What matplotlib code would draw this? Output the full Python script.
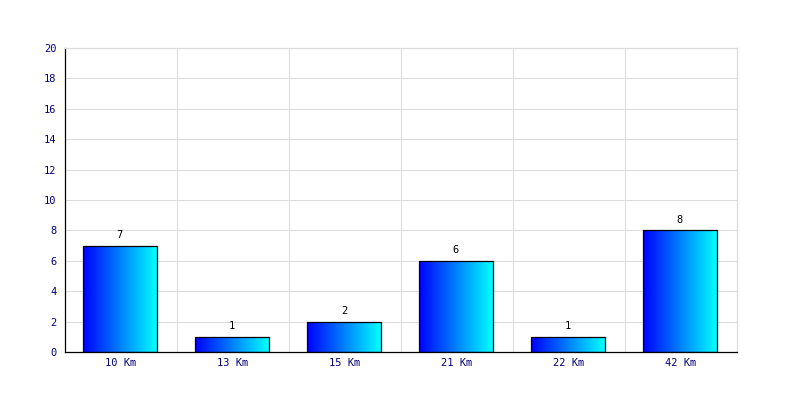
# Distances bar chart with blue-to-cyan gradient bars

import matplotlib
matplotlib.use("Agg")
import matplotlib.pyplot as plt
import numpy as np
from matplotlib.colors import LinearSegmentedColormap
from matplotlib.patches import Rectangle

# Data
categories = ['10 Km', '13 Km', '15 Km', '21 Km', '22 Km', '42 Km']
values = [7, 1, 2, 6, 1, 8]
y_ticks = [0, 2, 4, 6, 8, 10, 12, 14, 16, 18, 20]

font = 'DejaVu Sans Mono'
grid_color = '#dcdcdc'
tick_color = '#000080'
bar_width = 0.66

fig = plt.figure(figsize=(8, 4), dpi=100)
ax = fig.add_axes([65 / 800, 48 / 400, 672 / 800, 304 / 400])

x = np.arange(len(categories))

# grid lines: horizontal at ticks, vertical between categories
for yv in y_ticks[1:]:
    ax.axhline(yv, color=grid_color, lw=0.75, zorder=0)
for xv in np.arange(0.5, len(categories), 1.0):
    ax.axvline(xv, color=grid_color, lw=0.75, zorder=0)

# gradient bars
cmap = LinearSegmentedColormap.from_list('bc', ['#0000ff', '#00ffff'])
grad = np.linspace(0, 1, 256).reshape(1, -1)
bars = ax.bar(x - 0.01, values, width=bar_width, color='none', edgecolor='black', lw=0.9, zorder=3)
for bar in bars:
    x0, y0 = bar.get_x(), bar.get_y()
    w, h = bar.get_width(), bar.get_height()
    im = ax.imshow(grad, cmap=cmap, aspect='auto', extent=[x0, x0 + w, y0, y0 + h],
                   zorder=2, interpolation='bilinear')
    im.set_clip_path(Rectangle((x0, y0), w, h, transform=ax.transData))
    ax.annotate(str(int(h)), (x0 + w / 2, h), xytext=(0, 4), textcoords='offset points',
                ha='center', va='bottom', fontsize=7.5, family=font, color='black')

ax.set_xlim(-0.5, len(categories) - 0.5)
ax.set_ylim(0, 20)

ax.set_xticks(x)
ax.set_xticklabels(categories, family=font, fontsize=7.5, color=tick_color)
ax.set_yticks(y_ticks)
ax.set_yticklabels([str(t) for t in y_ticks], family=font, fontsize=7.5, color=tick_color)
ax.tick_params(axis='x', length=0, pad=4)
ax.tick_params(axis='y', length=0, pad=6)

ax.spines['left'].set_color('black')
ax.spines['bottom'].set_color('black')
ax.spines['top'].set_color(grid_color)
ax.spines['right'].set_color(grid_color)
for s in ax.spines.values():
    s.set_linewidth(0.9)
ax.spines['bottom'].set_zorder(4)

plt.savefig("out.png", dpi=100)
